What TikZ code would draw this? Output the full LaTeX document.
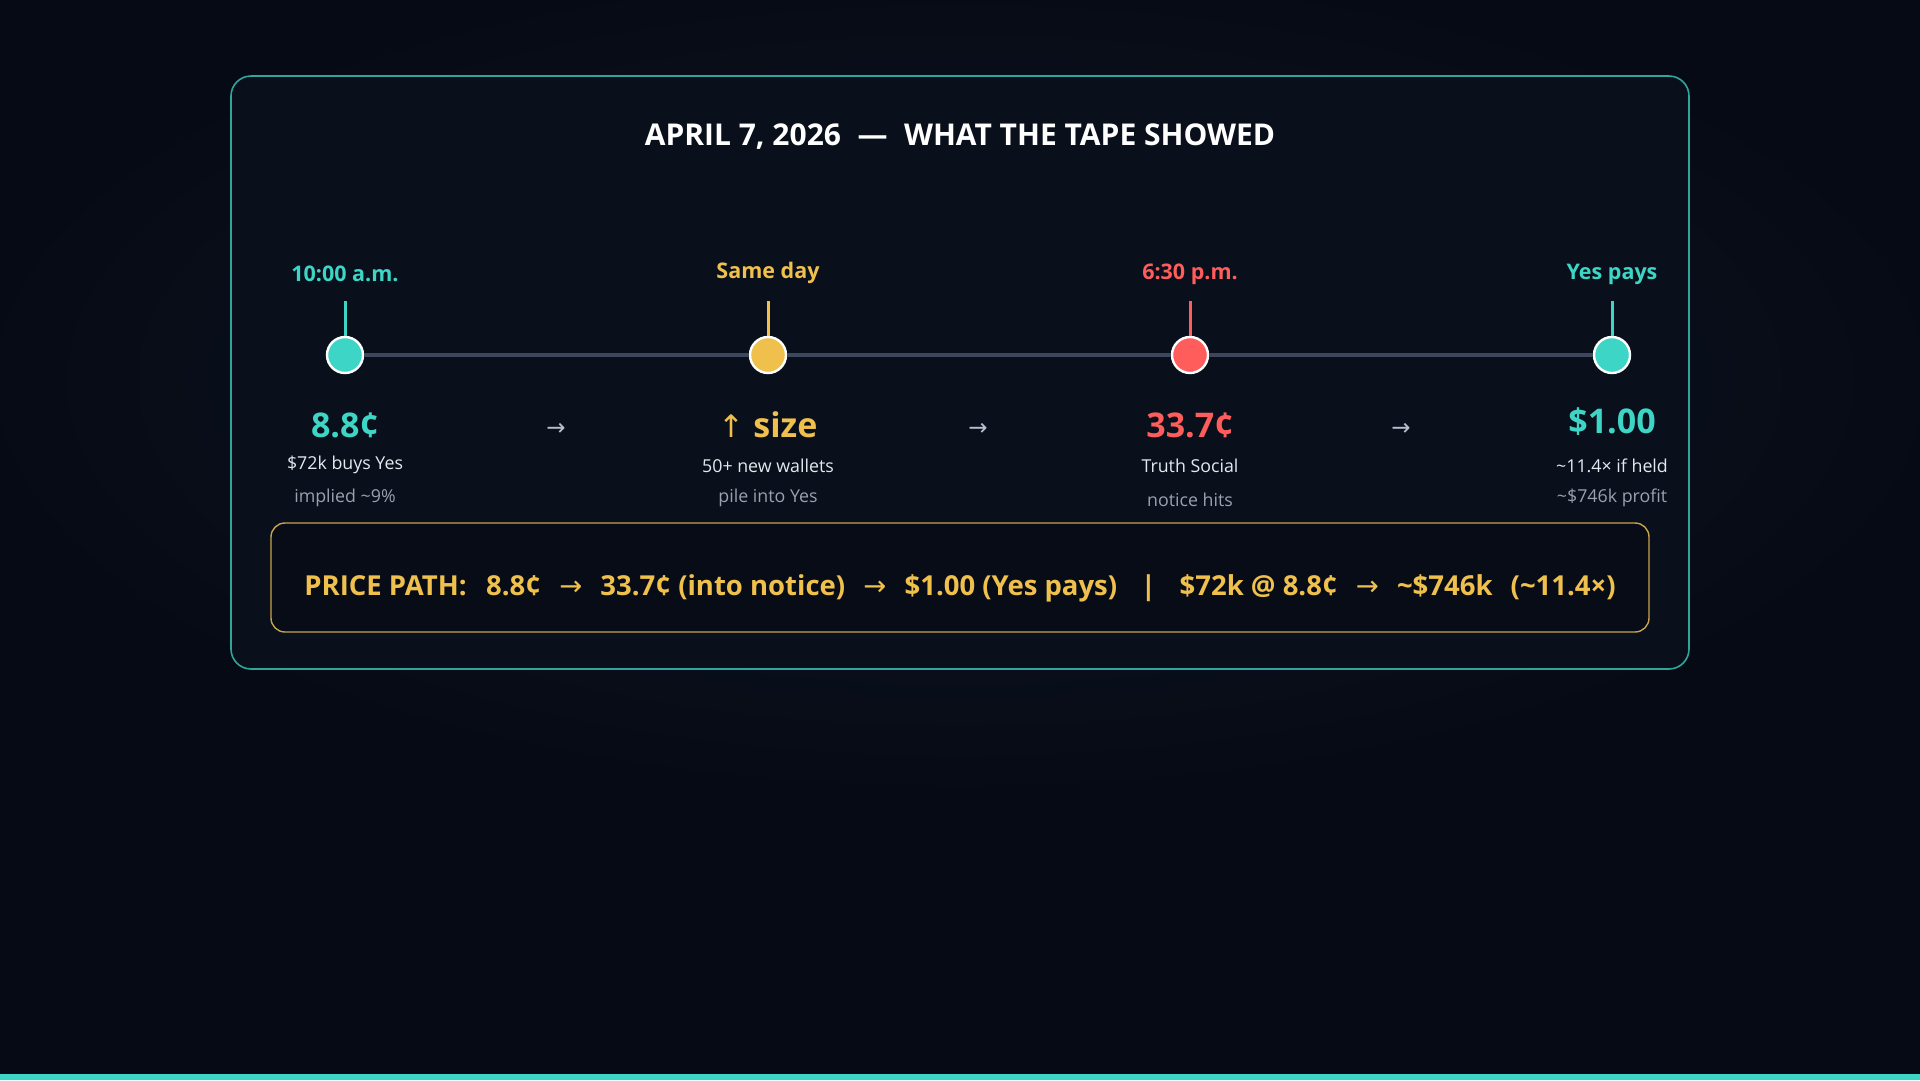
\documentclass[tikz,border=0pt]{standalone}
\usepackage{fontspec}
\setmainfont{Open Sans}
\newfontfamily\arrowfont{DejaVu Sans}
\definecolor{bg}{HTML}{060A14}
\definecolor{glow}{HTML}{0F1828}
\definecolor{cardfill}{HTML}{0A101B}
\definecolor{cardline}{HTML}{2FA59B}
\definecolor{teal}{HTML}{3DD6C6}
\definecolor{gold}{HTML}{F0C04C}
\definecolor{goldline}{HTML}{C9A44C}
\definecolor{coral}{HTML}{FF5C5C}
\definecolor{track}{HTML}{3C475E}
\definecolor{soft}{HTML}{E4E8EF}
\definecolor{muted}{HTML}{98A1B0}
\definecolor{arrowgray}{HTML}{B8BFCC}
\newcommand{\fsz}[1]{\fontsize{#1}{#1}\selectfont}
\newcommand{\arr}{{\arrowfont\fontseries{m}\selectfont →}}
\begin{document}
\begin{tikzpicture}[x=1pt,y=-1pt,
  dot/.style={circle,minimum size=36pt,inner sep=0pt,draw=white,line width=2.4pt,fill=#1},
  stem/.style={draw=#1,line width=3pt},
  when/.style={text=#1,font=\fsz{21.5}\bfseries},
  bigval/.style={text=#1,font=\fsz{34}\bfseries},
  lineone/.style={text=soft,font=\fsz{17.8}},
  linetwo/.style={text=muted,font=\fsz{17.8}},
  flow/.style={text=arrowgray,font=\fsz{23}\arrowfont}]
\useasboundingbox (0,0) rectangle (1920,1080);
\fill[bg] (0,0) rectangle (1920,1080);
\shade[inner color=glow,outer color=bg] (960,380) ellipse (1000 and 420);
\fill[teal] (0,1074) rectangle (1920,1080);
% card
\draw[cardline,line width=1.6pt,fill=cardfill,rounded corners=20pt] (231,76) rectangle (1689,669);
\node[text=white,font=\fsz{30}\bfseries] (title) at (960,137) {APRIL 7, 2026\hspace{0.55em}—\hspace{0.55em}WHAT THE TAPE SHOWED};
% timeline
\node[dot=teal] (e1) at (345,355) {};
\node[dot=gold] (e2) at (768,355) {};
\node[dot=coral] (e3) at (1190,355) {};
\node[dot=teal] (e4) at (1612,355) {};
\draw[track,line width=4.5pt] (e1.east) -- (e2.west);
\draw[track,line width=4.5pt] (e2.east) -- (e3.west);
\draw[track,line width=4.5pt] (e3.east) -- (e4.west);
\coordinate (s1) at (345,301);
\coordinate (s2) at (768,301);
\coordinate (s3) at (1190,301);
\coordinate (s4) at (1612,301);
\draw[stem=teal] (s1) -- (e1.north);
\draw[stem=gold] (s2) -- (e2.north);
\draw[stem=coral] (s3) -- (e3.north);
\draw[stem=teal] (s4) -- (e4.north);
\node[when=teal] (w1) at (345,274) {10:00 a.m.};
\node[when=gold] (w2) at (768,273) {Same day};
\node[when=coral] (w3) at (1190,274) {6:30 p.m.};
\node[when=teal] (w4) at (1612,274) {Yes pays};
\node[bigval=teal] (v1) at (345,425) {8.8¢};
\node[bigval=gold] (v2) at (768,425) {{\arrowfont\fontseries{m}\selectfont\fsz{31}↑} size};
\node[bigval=coral] (v3) at (1190,425) {33.7¢};
\node[bigval=teal] (v4) at (1612,422) {\$1.00};
\node[lineone] (a1) at (345,465) {\$72k buys Yes};
\node[lineone] (a2) at (768,466) {50+ new wallets};
\node[lineone] (a3) at (1190,466) {Truth Social};
\node[lineone] (a4) at (1612,466) {\textasciitilde11.4× if held};
\node[linetwo] (b1) at (345,498) {implied \textasciitilde9\%};
\node[linetwo] (b2) at (768,498) {pile into Yes};
\node[linetwo] (b3) at (1190,500) {notice hits};
\node[linetwo] (b4) at (1612,498) {\textasciitilde\$746k profit};
\node[flow] (f1) at (556,429) {→};
\node[flow] (f2) at (978,429) {→};
\node[flow] (f3) at (1401,429) {→};
% price path box
\draw[goldline,line width=1.4pt,fill=bg!60!cardfill,rounded corners=14pt] (271,523) rectangle (1649,632);
\node[text=gold,font=\fsz{27.5}\bfseries] (path) at (960,588)
 {PRICE PATH:\hspace{0.45em} 8.8¢\hspace{0.4em} \arr\hspace{0.4em} 33.7¢ (into notice)\hspace{0.4em} \arr\hspace{0.4em} \$1.00 (Yes pays)\hspace{0.6em} |\hspace{0.6em} \$72k @ 8.8¢\hspace{0.4em} \arr\hspace{0.4em} \textasciitilde\$746k\hspace{0.4em} (\textasciitilde11.4×)};
\end{tikzpicture}
\end{document}
